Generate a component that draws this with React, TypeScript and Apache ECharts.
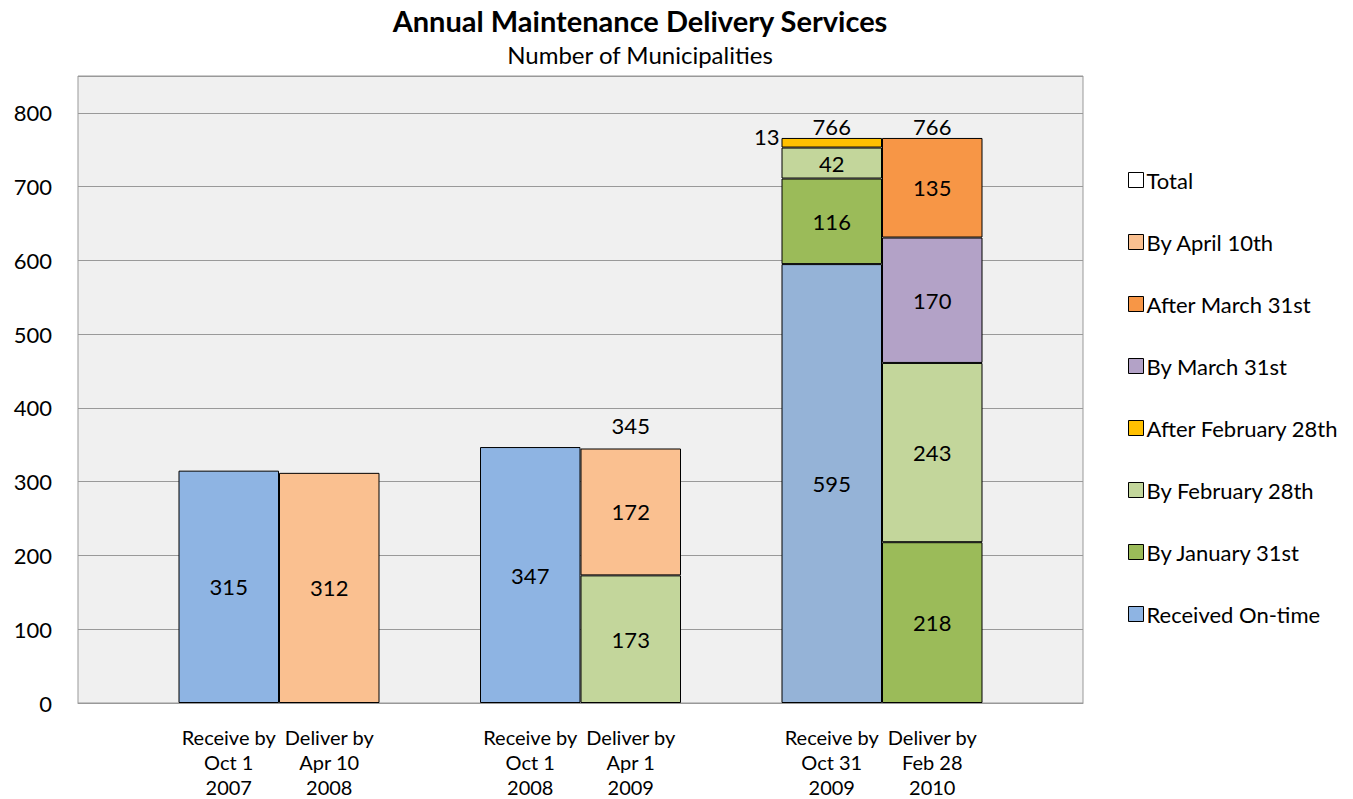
import React, { useEffect, useRef } from "react";
import * as echarts from "echarts";

const categories = [
  "",
  "Receive by\nOct 1\n2007",
  "Deliver by\nApr 10\n2008",
  "",
  "Receive by\nOct 1\n2008",
  "Deliver by\nApr 1\n2009",
  "",
  "Receive by\nOct 31\n2009",
  "Deliver by\nFeb 28\n2010",
  "",
];

const receivedOnTime = [null, 315, null, null, 347, null, null, 595, null, null];
const byJanuary31 = [null, null, null, null, null, null, null, 116, 218, null];
const byFebruary28 = [null, null, null, null, null, 173, null, 42, 243, null];
const afterFebruary28 = [null, null, null, null, null, null, null, 13, null, null];
const byMarch31 = [null, null, null, null, null, null, null, null, 170, null];
const afterMarch31 = [null, null, null, null, null, null, null, null, 135, null];
const byApril10 = [null, null, 312, null, null, 172, null, null, null, null];
const totals = [null, null, null, null, null, 345, null, 766, 766, null];

const FONT = "Lato, 'Noto Sans', sans-serif";

export default function App() {
  const ref = useRef<HTMLDivElement>(null);

  useEffect(() => {
    if (!ref.current) return;
    const chart = echarts.init(ref.current, undefined, { renderer: "svg" });

    const labelInside = {
      show: true,
      position: "inside",
      fontSize: 22,
      color: "#000",
      fontFamily: FONT,
    };
    const mk = (name: string, data: (number | null)[], color: string, extra: any = {}) => ({
      name,
      type: "bar",
      stack: "s",
      barCategoryGap: 0,
      barGap: "0%",
      data: data.map((v) => (v == null ? "-" : v)),
      itemStyle: { color, borderColor: "#000", borderWidth: 1 },
      label: labelInside,
      emphasis: { disabled: true },
      ...extra,
    });

    const receivedData = receivedOnTime.map((v, i) =>
      v == null ? "-" : i === 7 ? { value: v, itemStyle: { color: "#95B3D7" } } : v
    );

    const series: any[] = [
      { ...mk("Received On-time", receivedOnTime, "#8EB4E3"), data: receivedData },
      mk("By January 31st", byJanuary31, "#9BBB59"),
      mk("By February 28th", byFebruary28, "#C3D69B"),
      mk("After February 28th", afterFebruary28, "#FFC000", {
        label: {
          show: true,
          position: "left",
          distance: 2,
          offset: [0, -6],
          fontSize: 22,
          color: "#000",
          fontFamily: FONT,
        },
      }),
      mk("By March 31st", byMarch31, "#B3A2C7"),
      mk("After March 31st", afterMarch31, "#F79646"),
      mk("By April 10th", byApril10, "#FAC090"),
      {
        name: "Total",
        type: "bar",
        stack: "s",
        barCategoryGap: 0,
        barGap: "0%",
        itemStyle: { color: "rgba(255,255,255,0)", borderWidth: 0 },
        emphasis: { disabled: true },
        data: totals.map((v, i) =>
          v == null
            ? "-"
            : { value: 0, label: { distance: i === 5 ? 12 : 0 } }
        ),
        label: {
          show: true,
          position: "top",
          fontSize: 22,
          color: "#000",
          fontFamily: FONT,
          formatter: (p: any) => String(totals[p.dataIndex]),
        },
      },
    ];

    const legendColors: Record<string, string> = {
      "Received On-time": "#8EB4E3",
      "By January 31st": "#9BBB59",
      "By February 28th": "#C3D69B",
      "After February 28th": "#FFC000",
      "By March 31st": "#B3A2C7",
      "After March 31st": "#F79646",
      "By April 10th": "#FAC090",
      Total: "#FFFFFF",
    };
    const legendOrder = [
      "Total",
      "By April 10th",
      "After March 31st",
      "By March 31st",
      "After February 28th",
      "By February 28th",
      "By January 31st",
      "Received On-time",
    ];

    chart.setOption({
      animation: false,
      backgroundColor: "#fff",
      textStyle: { fontFamily: FONT },
      title: {
        text: "Annual Maintenance Delivery Services",
        subtext: "Number of Municipalities",
        left: 635,
        top: 1,
        textAlign: "center",
        itemGap: 7,
        textStyle: { fontSize: 29, fontWeight: "bold", color: "#000", fontFamily: FONT },
        subtextStyle: { fontSize: 24, color: "#000", fontFamily: FONT },
      },
      legend: {
        orient: "vertical",
        left: 1123,
        top: 163,
        itemWidth: 15,
        itemHeight: 15,
        itemGap: 38,
        icon: "rect",
        selectedMode: false,
        textStyle: { fontSize: 22, lineHeight: 24, color: "#000", fontFamily: FONT, padding: [0, 0, 0, -2] },
        data: legendOrder.map((n) => ({
          name: n,
          icon: "rect",
          itemStyle: { color: legendColors[n], borderColor: "#000", borderWidth: 1 },
        })),
      },
      grid: {
        left: 78,
        right: 270,
        top: 76,
        bottom: 92,
        show: true,
        backgroundColor: "#F0F0F0",
        borderColor: "#999",
        borderWidth: 1,
        containLabel: false,
      },
      xAxis: {
        type: "category",
        data: categories,
        axisTick: { show: false },
        axisLine: { show: true, lineStyle: { color: "#999" } },
        axisLabel: {
          interval: 0,
          fontSize: 20,
          lineHeight: 25,
          color: "#000",
          margin: 21,
          fontFamily: FONT,
        },
      },
      yAxis: {
        type: "value",
        min: 0,
        max: 850,
        interval: 100,
        axisLine: { show: false },
        axisTick: { show: false },
        axisLabel: {
          showMaxLabel: false,
          fontSize: 22,
          color: "#000",
          margin: 26,
          fontFamily: FONT,
        },
        splitLine: { lineStyle: { color: "#999", width: 1 } },
      },
      series,
    });

    return () => chart.dispose();
  }, []);

  return (
    <div
      ref={ref}
      style={{ position: "fixed", left: 0, top: 0, width: 1353, height: 799 }}
    />
  );
}
